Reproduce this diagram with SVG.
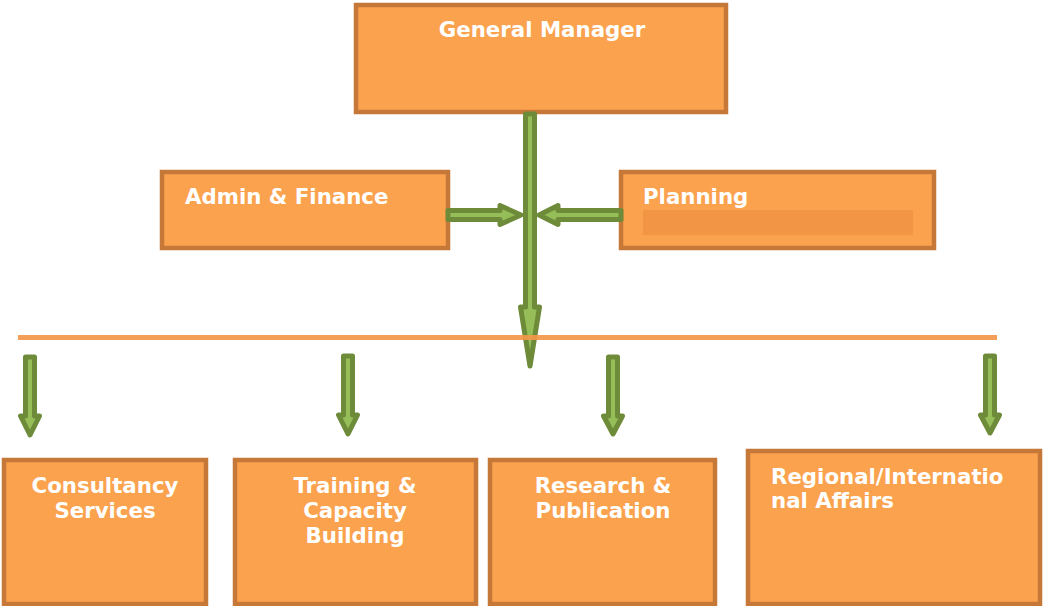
<svg xmlns="http://www.w3.org/2000/svg" width="1044" height="606" viewBox="0 0 1044 606">
  <defs>
    <style>
      .box { fill: #FBA24E; stroke: #C67839; stroke-width: 4.5; }
      .label { font-family: "DejaVu Sans", "Liberation Sans", sans-serif; font-weight: bold; font-size: 21.3px; fill: #FFFFFF; }
      .mid { text-anchor: middle; }
      .arrow { fill: #96BE58; stroke: #6E8B3A; stroke-width: 5; stroke-linejoin: round; }
    </style>
    <filter id="soft" x="-5%" y="-300%" width="110%" height="700%">
      <feGaussianBlur stdDeviation="1.8"/>
    </filter>
  </defs>

  <rect width="1044" height="606" fill="#FFFFFF"/>

  <!-- top level -->
  <g id="general-manager">
    <rect class="box" x="356" y="5" width="370" height="107"/>
    <text class="label mid" x="542" y="37">General Manager</text>
  </g>

  <!-- staff units -->
  <g id="admin-finance">
    <rect class="box" x="162" y="172" width="286" height="76"/>
    <text class="label" x="185" y="204">Admin &amp; Finance</text>
  </g>
  <g id="planning">
    <rect class="box" x="621" y="172" width="313" height="76"/>
    <rect x="643" y="210" width="270" height="25" fill="#F29645"/>
    <text class="label" x="643" y="204">Planning</text>
  </g>

  <!-- departments -->
  <g id="consultancy">
    <rect class="box" x="4" y="460" width="202" height="144"/>
    <text class="label mid" x="105" y="493">Consultancy</text>
    <text class="label mid" x="105" y="518">Services</text>
  </g>
  <g id="training">
    <rect class="box" x="235" y="460" width="241" height="144"/>
    <text class="label mid" x="355" y="493">Training &amp;</text>
    <text class="label mid" x="355" y="518">Capacity</text>
    <text class="label mid" x="355" y="543">Building</text>
  </g>
  <g id="research">
    <rect class="box" x="490" y="460" width="225" height="144"/>
    <text class="label mid" x="603" y="493">Research &amp;</text>
    <text class="label mid" x="603" y="518">Publication</text>
  </g>
  <g id="regional">
    <rect class="box" x="748" y="451" width="292" height="153"/>
    <text class="label" x="771" y="484">Regional/Internatio</text>
    <text class="label" x="771" y="508">nal Affairs</text>
  </g>

  <!-- connectors -->
  <g id="connectors">
    <!-- trunk from the general manager -->
    <polygon class="arrow" points="525.5,114 534.5,114 534.5,307 539.5,307 530,366 520.5,307 525.5,307"/>
    <!-- staff unit feeds -->
    <polygon class="arrow" points="448,210.5 500,210.5 500,205.5 521,215 500,224.5 500,219.5 448,219.5"/>
    <polygon class="arrow" points="621,210.5 558,210.5 558,205.5 539,215 558,224.5 558,219.5 621,219.5"/>
    <!-- distribution bar -->
    <line x1="20" y1="341.5" x2="996" y2="341.5" stroke="#8E8E8E" stroke-width="4" opacity="0.75" filter="url(#soft)"/>
    <line x1="18" y1="337.5" x2="997" y2="337.5" stroke="#F4974A" stroke-width="5" opacity="0.92"/>
    <!-- department feeds -->
    <polygon class="arrow" points="25.5,357 34.5,357 34.5,416 39.5,416 30,435 20.5,416 25.5,416"/>
    <polygon class="arrow" points="343.5,356 352.5,356 352.5,415 357.5,415 348,434 338.5,415 343.5,415"/>
    <polygon class="arrow" points="608.5,357 617.5,357 617.5,416 622.5,416 613,434 603.5,416 608.5,416"/>
    <polygon class="arrow" points="985.5,356 994.5,356 994.5,415 999.5,415 990,433 980.5,415 985.5,415"/>
  </g>
</svg>
